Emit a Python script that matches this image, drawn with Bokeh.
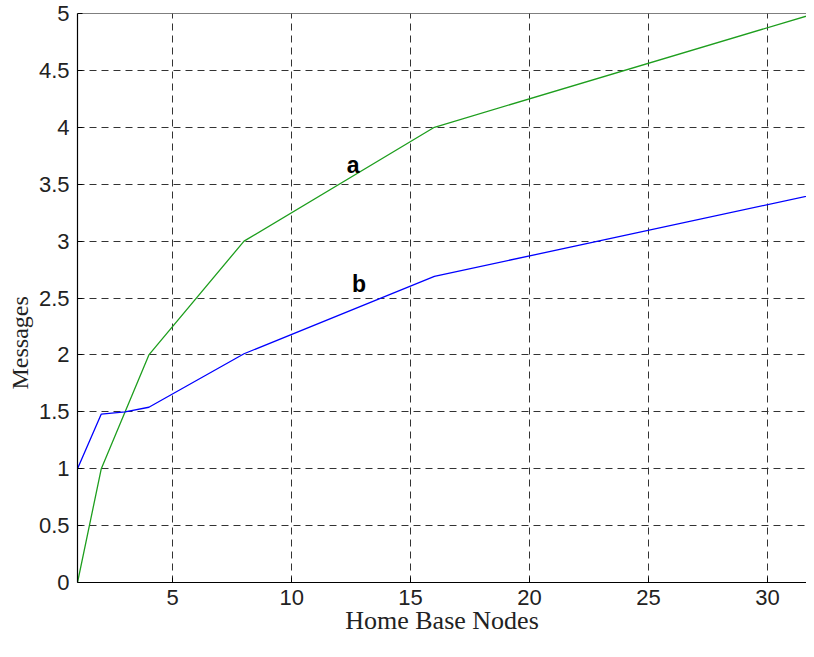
from bokeh.plotting import figure
from bokeh.models import Range1d, Span, FixedTicker, Label, Title
from bokeh.embed import file_html
from bokeh.resources import INLINE

# data
nodes_a = [1, 2, 4, 8, 16, 32]
msgs_a = [0, 1, 2, 3, 4, 5]
nodes_b = [1, 2, 3, 4, 8, 16, 32]
msgs_b = [1.0, 1.48, 1.50, 1.54, 2.01, 2.69, 3.41]
x_ticks = [5, 10, 15, 20, 25, 30]
y_ticks = [0, 0.5, 1, 1.5, 2, 2.5, 3, 3.5, 4, 4.5, 5]
y_tick_labels = {0: "0", 0.5: "0.5", 1: "1", 1.5: "1.5", 2: "2", 2.5: "2.5",
                 3: "3", 3.5: "3.5", 4: "4", 4.5: "4.5", 5: "5"}
x_title = "Home Base Nodes"
y_title = "Messages"

W, H = 806, 641
p = figure(width=W, height=H, output_backend="svg", toolbar_location=None,
           x_range=Range1d(1, 31.64), y_range=Range1d(0, 5),
           min_border_left=77, min_border_right=0, min_border_top=13,
           min_border_bottom=59)
p.background_fill_color = "white"
p.border_fill_color = "white"
p.outline_line_color = None

for ax in (p.xaxis[0], p.yaxis[0]):
    ax.axis_line_color = "black"
    ax.axis_line_width = 1.2
    ax.major_tick_in = 5
    ax.major_tick_out = 0
    ax.major_tick_line_color = "black"
    ax.minor_tick_line_color = None
    ax.major_label_text_font = "Liberation Sans"
    ax.major_label_text_font_size = "22px"
    ax.major_label_text_color = "#222222"

p.xaxis.ticker = FixedTicker(ticks=x_ticks)
p.yaxis.ticker = FixedTicker(ticks=y_ticks)
p.yaxis.major_label_overrides = y_tick_labels
p.xaxis.major_label_standoff = 7
p.yaxis.major_label_standoff = 8

p.xaxis.axis_label = x_title
p.xaxis.axis_label_text_font = "Liberation Serif"
p.xaxis.axis_label_text_font_size = "26px"
p.xaxis.axis_label_text_font_style = "normal"
p.xaxis.axis_label_text_color = "#222222"
p.xaxis.axis_label_standoff = -2

ytitle = Title(text=y_title, align="left", offset=193, standoff=6,
               text_font="Liberation Serif", text_font_size="24px",
               text_font_style="normal", text_color="#222222")
p.add_layout(ytitle, "left")

for g in (p.xgrid[0], p.ygrid[0]):
    g.grid_line_color = "#333333"
    g.grid_line_dash = "7 5"
    g.grid_line_width = 1

p.add_layout(Span(location=5, dimension="width", line_color="black", line_width=1.2))

p.line(nodes_a, msgs_a, line_color="#1e9e1e", line_width=1.3)
p.line(nodes_b, msgs_b, line_color="#0000ff", line_width=1.3)

p.add_layout(Label(x=12.59, y=3.665, text="a", text_align="center",
                   text_baseline="alphabetic", text_font="Liberation Sans",
                   text_font_style="bold", text_font_size="23px", text_color="black"))
p.add_layout(Label(x=12.83, y=2.62, text="b", text_align="center",
                   text_baseline="alphabetic", text_font="Liberation Sans",
                   text_font_style="bold", text_font_size="23px", text_color="black"))

open("out.html", "w").write(file_html(p, INLINE))
